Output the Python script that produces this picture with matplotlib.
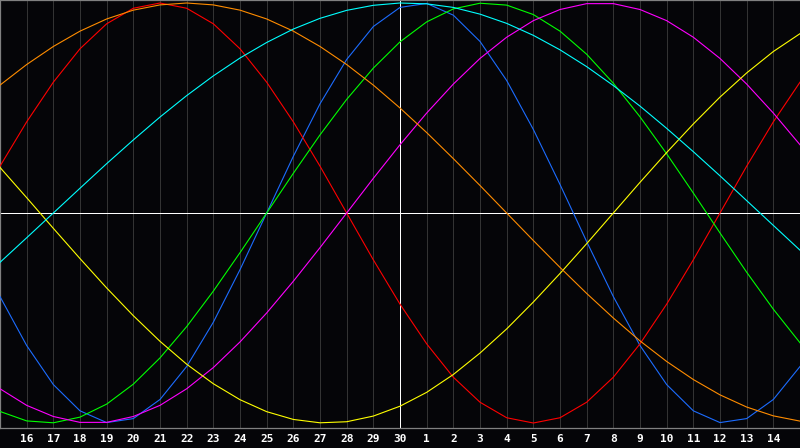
import matplotlib
matplotlib.use('Agg')
import matplotlib.pyplot as plt

# day labels on the x axis (15th of one month to 15th of the next)
days = [16, 17, 18, 19, 20, 21, 22, 23, 24, 25, 26, 27, 28, 29, 30,
        1, 2, 3, 4, 5, 6, 7, 8, 9, 10, 11, 12, 13, 14]
today_idx = 15  # index of day "30", the white vertical line

# daily values, one per gridline, from the left edge to the right edge
p23 = [-0.398, -0.631, -0.817, -0.942, -0.998, -0.979, -0.888, -0.731, -0.520, -0.270,
       0.000, 0.270, 0.520, 0.731, 0.888, 0.979, 0.998, 0.942, 0.817, 0.631,
       0.398, 0.136, -0.136, -0.398, -0.631, -0.817, -0.942, -0.998, -0.979, -0.888, -0.731]
p28 = [0.223, 0.434, 0.623, 0.782, 0.901, 0.975, 1.000, 0.975, 0.901, 0.782,
       0.623, 0.434, 0.223, 0.000, -0.223, -0.434, -0.623, -0.782, -0.901, -0.975,
       -1.000, -0.975, -0.901, -0.782, -0.623, -0.434, -0.223, 0.000, 0.223, 0.434, 0.623]
p33 = [-0.945, -0.990, -0.999, -0.972, -0.910, -0.815, -0.690, -0.541, -0.372, -0.189,
       -0.000, 0.189, 0.372, 0.541, 0.690, 0.815, 0.910, 0.972, 0.999, 0.990,
       0.945, 0.866, 0.756, 0.618, 0.458, 0.282, 0.095, -0.095, -0.282, -0.458, -0.618]
p38 = [-0.837, -0.916, -0.969, -0.997, -0.997, -0.969, -0.916, -0.837, -0.736, -0.614,
       -0.476, -0.325, -0.165, -0.000, 0.165, 0.325, 0.476, 0.614, 0.736, 0.837,
       0.916, 0.969, 0.997, 0.997, 0.969, 0.916, 0.837, 0.736, 0.614, 0.476, 0.325]
p43 = [0.217, 0.073, -0.073, -0.217, -0.357, -0.489, -0.611, -0.720, -0.813, -0.889,
       -0.946, -0.983, -0.999, -0.994, -0.967, -0.920, -0.854, -0.769, -0.667, -0.552,
       -0.424, -0.288, -0.146, -0.000, 0.146, 0.288, 0.424, 0.552, 0.667, 0.769, 0.854]
p48 = [0.609, 0.707, 0.793, 0.866, 0.924, 0.966, 0.991, 1.000, 0.991, 0.966,
       0.924, 0.866, 0.793, 0.707, 0.609, 0.500, 0.383, 0.259, 0.131, 0.000,
       -0.131, -0.259, -0.383, -0.500, -0.609, -0.707, -0.793, -0.866, -0.924, -0.966, -0.991]
p53 = [-0.235, -0.118, -0.000, 0.118, 0.235, 0.348, 0.457, 0.559, 0.653, 0.738,
       0.812, 0.876, 0.927, 0.965, 0.989, 1.000, 0.996, 0.979, 0.947, 0.903,
       0.846, 0.777, 0.697, 0.607, 0.509, 0.403, 0.292, 0.177, 0.059, -0.059, -0.177]

series = [p23, p28, p33, p38, p43, p48, p53]
colors = ['#1c6cff', '#ff0000', '#00ff00', '#ff00ff', '#ffff00', '#ff8c00', '#00ffff']

bg = '#050508'
fig = plt.figure(figsize=(8, 4.48), dpi=100, facecolor=bg)
ax = fig.add_axes([0, 20 / 448, 1, 428 / 448], facecolor=bg)

ticks = list(range(1, len(days) + 1))
for x in ticks:
    ax.axvline(x, color='#333333', lw=0.72, zorder=1)
ax.axhline(0, color='white', lw=0.72, zorder=2)
ax.axvline(today_idx, color='white', lw=0.72, zorder=2)

xs = list(range(len(p23)))
for vals, c in zip(series, colors):
    ax.plot(xs, vals, color=c, lw=0.8, zorder=3)

ax.set_xlim(0, 30)
ax.set_ylim(-1.0238, 1.0143)
ax.set_yticks([])
ax.set_xticks(ticks)
ax.set_xticklabels([str(d) for d in days], color='white',
                   fontfamily='DejaVu Sans Mono', fontweight='bold', fontsize=8)
ax.tick_params(axis='x', length=0, pad=4.5)
for s in ['top', 'left', 'bottom']:
    ax.spines[s].set_color('#808080')
    ax.spines[s].set_linewidth(0.9)
ax.spines['right'].set_visible(False)

fig.savefig('out.png', facecolor=fig.get_facecolor())
